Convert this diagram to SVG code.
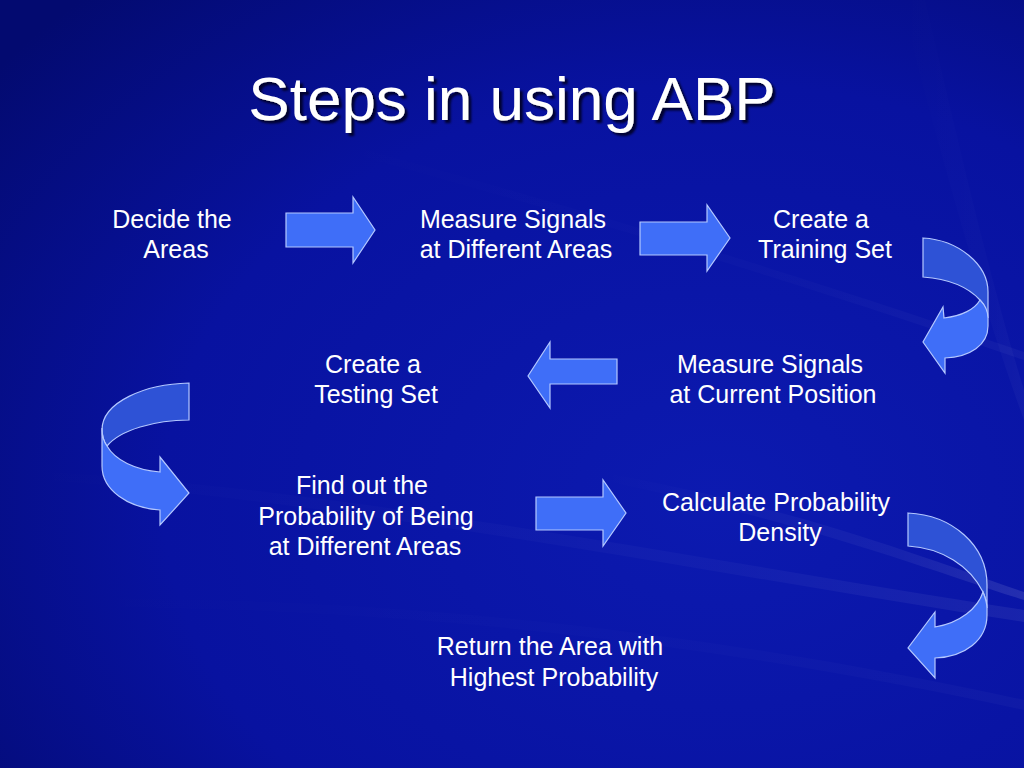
<svg xmlns="http://www.w3.org/2000/svg" width="1024" height="768" viewBox="0 0 1024 768">
<defs>
<radialGradient id="bg" cx="0.7" cy="0.65" r="0.9">
<stop offset="0" stop-color="#0c1ab0"/>
<stop offset="0.6" stop-color="#0812a0"/>
<stop offset="1" stop-color="#030a70"/>
</radialGradient>
<linearGradient id="streak" x1="0" y1="0" x2="1" y2="0">
<stop offset="0" stop-color="#ffffff" stop-opacity="0"/>
<stop offset="0.7" stop-color="#ffffff" stop-opacity="0.08"/>
<stop offset="1" stop-color="#ffffff" stop-opacity="0.18"/>
</linearGradient>
<filter id="shadow" x="-10%" y="-20%" width="130%" height="150%">
<feDropShadow dx="3" dy="3" stdDeviation="1" flood-color="#000020" flood-opacity="0.9"/>
</filter>
</defs>
<style>
.t{font-family:"Liberation Sans",Arial,sans-serif;font-size:25px;fill:#ffffff;text-anchor:middle}
.title{font-family:"Liberation Sans",Arial,sans-serif;font-size:62px;fill:#ffffff;text-anchor:middle}
.arrow{fill:#3f6ef8;stroke:#b4c8ff;stroke-width:1.2;stroke-linejoin:miter}
.back{fill:#2e52d6;stroke:#b4c8ff;stroke-width:1.2}
</style>
<rect width="1024" height="768" fill="url(#bg)"/>
<g id="background-streaks" fill="url(#streak)">
<path d="M0,470 C300,480 700,560 1024,610 L1024,622 C700,572 300,492 0,478 Z" opacity="0.35"/>
<path d="M600,480 C800,520 930,570 1024,600 L1024,592 C930,560 800,508 600,472 Z" opacity="0.6"/>
<path d="M300,140 C600,220 850,300 1024,360 L1024,352 C850,292 600,212 300,132 Z" opacity="0.2"/>
<path d="M900,0 C940,150 980,300 1024,420 L1024,390 C990,280 960,150 925,0 Z" opacity="0.18"/>
<path d="M0,600 C400,590 750,640 1024,700 L1024,710 C750,650 400,600 0,608 Z" opacity="0.15"/>
</g>
<g id="title">
<text class="title" x="512" y="120" filter="url(#shadow)">Steps in using ABP</text>
</g>
<g id="node-decide">
<text class="t" x="172" y="228">Decide the</text>
<text class="t" x="176" y="258">Areas</text>
</g>
<g id="node-measure-different">
<text class="t" x="513" y="228">Measure Signals</text>
<text class="t" x="516" y="258">at Different Areas</text>
</g>
<g id="node-training">
<text class="t" x="821" y="228">Create a</text>
<text class="t" x="825" y="258">Training Set</text>
</g>
<g id="node-measure-current">
<text class="t" x="770" y="373">Measure Signals</text>
<text class="t" x="773" y="403">at Current Position</text>
</g>
<g id="node-testing">
<text class="t" x="373" y="373">Create a</text>
<text class="t" x="376" y="403">Testing Set</text>
</g>
<g id="node-find">
<text class="t" x="362" y="494">Find out the</text>
<text class="t" x="366" y="525">Probability of Being</text>
<text class="t" x="365" y="555">at Different Areas</text>
</g>
<g id="node-calculate">
<text class="t" x="776" y="511">Calculate Probability</text>
<text class="t" x="780" y="541">Density</text>
</g>
<g id="node-return">
<text class="t" x="550" y="655">Return the Area with</text>
<text class="t" x="554" y="686">Highest Probability</text>
</g>
<g id="connectors">
<path class="arrow" d="M286,213 L353,213 L353,197 L375,230 L353,263 L353,247 L286,247 Z"/>
<path class="arrow" d="M640,222 L707,222 L707,205 L730,238 L707,271 L707,255 L640,255 Z"/>
<path class="back" d="M923,238 C958,240 988,264 988,292 L988,318 C986,309 983,303 980,300 C968,287 950,279 923,277 Z"/>
<path class="arrow" d="M980,300 C985,305 988,312 988,318 L988,326 C988,345 970,357 945,358 L945,373 L923,342 L943,307 L944,318 C962,316 975,309 980,300 Z"/>
<path class="arrow" d="M617,359 L550,359 L550,342 L528,376 L550,408 L550,384 L617,384 Z"/>
<path class="back" d="M189,383 L189,420 C155,420 120,430 107,446 C104,442 102,437 102,430 C102,402 145,384 189,383 Z"/>
<path class="arrow" d="M102,428 C102,437 104,442 107,446 C115,460 135,470 160,472 L160,457 L189,493 L160,525 L160,510 C128,508 102,490 102,466 Z"/>
<path class="arrow" d="M536,497 L603,497 L603,480 L626,513 L603,546 L603,530 L536,530 Z"/>
<path class="back" d="M908,513 C952,515 987,545 987,585 L987,608 C986,600 985,596 983,592 C970,566 942,548 908,546 Z"/>
<path class="arrow" d="M983,592 C985,597 987,603 987,608 L987,615 C987,640 965,657 935,658 L935,678 L908,648 L935,612 L935,627 C960,623 978,608 983,592 Z"/>
</g>
</svg>
